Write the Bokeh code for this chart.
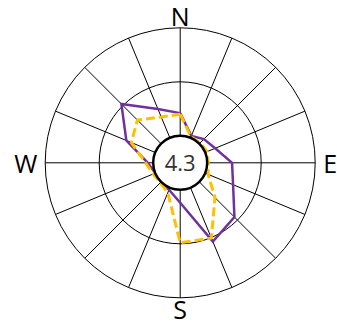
from math import radians, sin, cos

from bokeh.core.properties import value
from bokeh.embed import file_html
from bokeh.models import Range1d
from bokeh.plotting import figure
from bokeh.resources import INLINE

# 16 compass sectors, clockwise from north
directions = ["N", "NNE", "NE", "ENE", "E", "ESE", "SE", "SSE",
              "S", "SSW", "SW", "WSW", "W", "WNW", "NW", "NNW"]

# frequency per sector (%)
series_a = [2.1, 0.2, 0.6, 1.0, 2.3, 2.8, 4.6, 5.4,
            1.2, 0.2, 0.0, 0.0, 0.5, 2.9, 5.2, 2.9]
series_b = [2.0, 0.1, 0.1, 0.2, 0.1, 0.3, 2.05, 5.05,
            4.9, 0.5, 0.1, 0.2, 0.7, 2.4, 3.1, 2.1]

ring_levels = [5, 10]
calm = "4.3"
cardinals = ["N", "E", "S", "W"]

W, H = 337, 326
CX, CY = 179.7, 162.3      # rose centre in canvas pixels
HOLE = 27.0                 # radius of the calm circle
PX_PER_UNIT = 10.8          # radial scale: pixels per percent


def radius(v):
    return HOLE + v * PX_PER_UNIT


def polar(v, ang):
    r = radius(v)
    return r * sin(radians(ang)), r * cos(radians(ang))


angles = [i * 360 / len(directions) for i in range(len(directions))]

p = figure(width=W, height=H, output_backend="svg", toolbar_location=None,
           x_range=Range1d(-CX, W - CX), y_range=Range1d(CY - H, CY),
           x_axis_location=None, y_axis_location=None, min_border=0)
p.grid.visible = False
p.outline_line_color = None
p.background_fill_color = "white"
p.border_fill_color = "white"

# spokes
xs, ys = [], []
for a in angles:
    x0, y0 = polar(0, a)
    x1, y1 = polar(ring_levels[-1], a)
    xs.append([x0, x1])
    ys.append([y0, y1])
p.multi_line(xs, ys, line_color="black", line_width=1)

# rings
for lv in ring_levels:
    p.circle(x=0, y=0, radius=radius(lv), fill_color=None,
             line_color="black", line_width=1)


def closed_path(vals):
    pts = [polar(v, a) for v, a in zip(vals, angles)]
    pts.append(pts[0])
    return [pt[0] for pt in pts], [pt[1] for pt in pts]


ax, ay = closed_path(series_a)
p.line(ax, ay, line_color="#7030A0", line_width=2.5, line_join="miter")

bx, by = closed_path(series_b)
p.line(bx, by, line_color="#FFC000", line_width=3, line_dash="9 4")

# calm circle
p.circle(x=0, y=0, radius=HOLE, fill_color="white",
         line_color="black", line_width=2.5)
p.text(x=[0], y=[0], text=[calm], text_align="center",
       text_baseline="middle", text_font=value("Open Sans"),
       text_font_size="22px", text_color="#333333")

# compass labels
label_r = [147.0, 150.0, 146.2, 154.5]
lx = [r * sin(radians(a)) for r, a in zip(label_r, [0, 90, 180, 270])]
ly = [r * cos(radians(a)) for r, a in zip(label_r, [0, 90, 180, 270])]
p.text(x=lx, y=ly, text=cardinals, text_align="center",
       text_baseline="middle", text_font=value("Open Sans"),
       text_font_size="25px", text_line_height=1.0, text_color="black")

open("out.html", "w").write(file_html(p, INLINE))
